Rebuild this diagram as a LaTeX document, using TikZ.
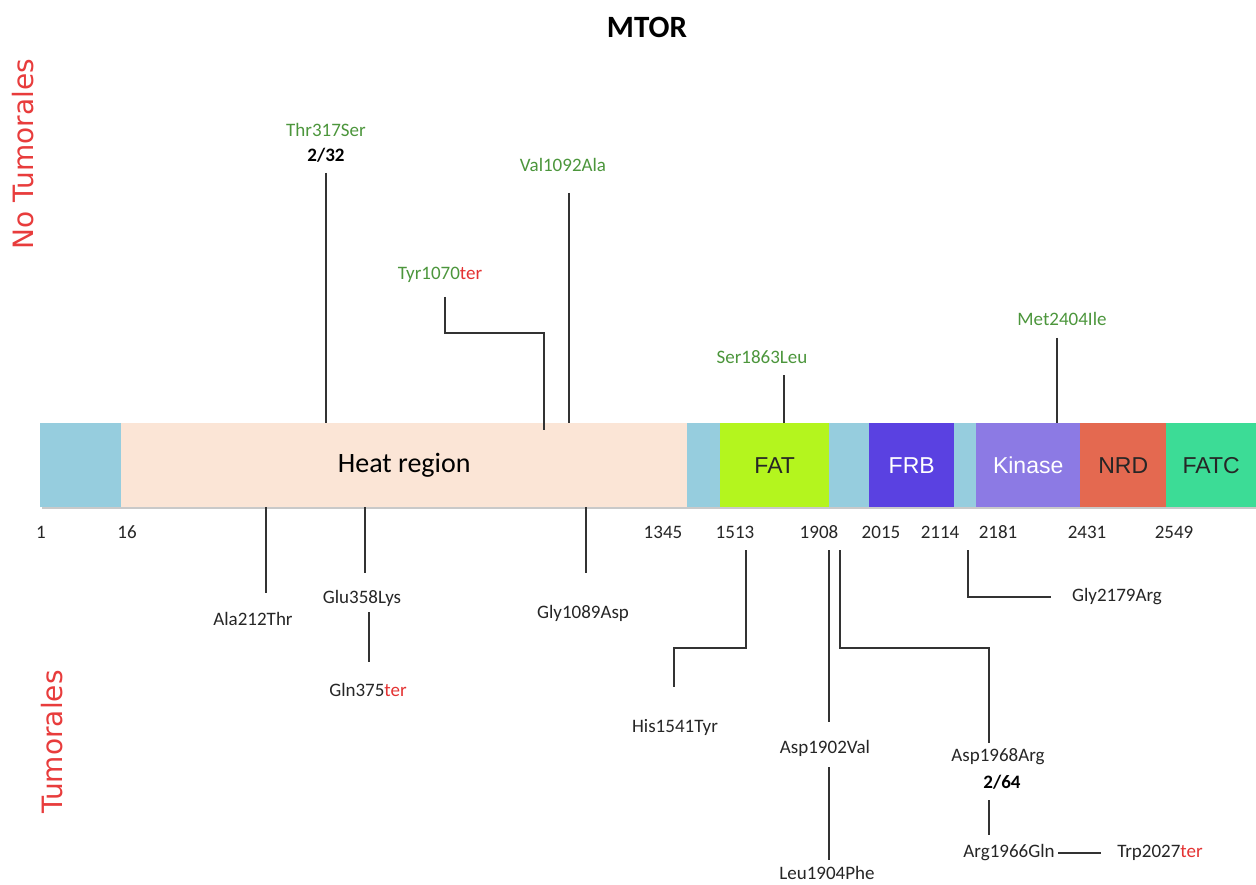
\documentclass[tikz,border=0pt]{standalone}
\usepackage{fontspec}
\setmainfont{Carlito}
\newfontfamily\dejavu{DejaVu Sans}
\newfontfamily\arialf{Liberation Sans}
\definecolor{lblue}{RGB}{150,205,222}
\definecolor{peach}{RGB}{251,229,214}
\definecolor{fatc1}{RGB}{180,245,30}
\definecolor{frbc}{RGB}{90,65,225}
\definecolor{kinc}{RGB}{140,122,228}
\definecolor{nrdc}{RGB}{228,105,80}
\definecolor{fatcc}{RGB}{60,220,150}
\definecolor{mgreen}{RGB}{76,150,60}
\definecolor{tred}{RGB}{228,50,50}
\definecolor{sidered}{RGB}{232,60,60}
\begin{document}
\begin{tikzpicture}[x=1pt,y=-1pt,
  seg/.style={draw=none, anchor=north west, minimum height=84pt, inner sep=0pt},
  dlabel/.style={font=\arialf\fontsize{23}{26}\selectfont},
  mut/.style={font=\fontsize{19}{22}\selectfont, inner sep=0pt, text=black!85},
  gmut/.style={mut, text=mgreen},
  cnt/.style={font=\fontsize{19}{22}\selectfont\bfseries, inner sep=0pt, text=black},
  num/.style={font=\fontsize{19}{22}\selectfont, inner sep=0pt, text=black!85},
  conn/.style={line width=1.3pt, draw=black!80},
  side/.style={rotate=90, font=\dejavu\fontsize{28}{30}\selectfont, text=sidered, inner sep=0pt}
]
\useasboundingbox (0,0) rectangle (1256,885);
\fill[white] (0,0) rectangle (1256,885);

% title and side labels
\node[font=\fontsize{31}{34}\selectfont\bfseries, inner sep=0pt] (mtor) at (647,27) {MTOR};
\node[side] (notum) at (23,154) {No Tumorales};
\node[side] (tum) at (52,742) {Tumorales};

% bar shadow
\fill[black!35, opacity=0.6] (42,505) rectangle (1256,509);

% bar segments
\node[seg, fill=lblue, minimum width=81pt] (b1) at (40,423) {};
\node[seg, fill=peach, minimum width=566pt, font=\fontsize{28}{30}\selectfont] (heat) at (121,423) {Heat region};
\node[seg, fill=lblue, minimum width=33pt] (b2) at (687,423) {};
\node[seg, fill=fatc1, minimum width=109pt, dlabel, text=black!85] (fat) at (720,423) {FAT};
\node[seg, fill=lblue, minimum width=40pt] (b3) at (829,423) {};
\node[seg, fill=frbc, minimum width=85pt, dlabel, text=white] (frb) at (869,423) {FRB};
\node[seg, fill=lblue, minimum width=22pt] (b4) at (954,423) {};
\node[seg, fill=kinc, minimum width=104pt, dlabel, text=white] (kin) at (976,423) {Kinase};
\node[seg, fill=nrdc, minimum width=86pt, dlabel, text=black!85] (nrd) at (1080,423) {NRD};
\node[seg, fill=fatcc, minimum width=90pt, dlabel, text=black!85] (fatc) at (1166,423) {FATC};

% position numbers
\node[num] (n1) at (41,532) {1};
\node[num] (n16) at (127,532) {16};
\node[num] (n1345) at (663,532) {1345};
\node[num] (n1513) at (735,532) {1513};
\node[num] (n1908) at (819,532) {1908};
\node[num] (n2015) at (881,532) {2015};
\node[num] (n2114) at (940,532) {2114};
\node[num] (n2181) at (998,532) {2181};
\node[num] (n2431) at (1087,532) {2431};
\node[num] (n2549) at (1174,532) {2549};

% ---------- No Tumorales (above) ----------
\node[gmut] (thr) at (326,130) {Thr317Ser};
\node[cnt] (thrc) at (326,155) {2/32};
\coordinate (thrA) at (326,173); \coordinate (thrB) at (326,423);
\draw[conn] (thrA) -- (thrB);

\node[gmut] (val) at (563,165) {Val1092Ala};
\coordinate (valA) at (569,193); \coordinate (valB) at (569,423);
\draw[conn] (valA) -- (valB);

\node[gmut] (tyr) at (440,275) {Tyr1070\textcolor{tred}{ter}};
\coordinate (tyrA) at (445,297); \coordinate (tyrB) at (544,333); \coordinate (tyrC) at (544,430);
\draw[conn] (tyrA) |- (tyrB) -- (tyrC);

\node[gmut] (ser) at (762,357) {Ser1863Leu};
\coordinate (serA) at (784,375); \coordinate (serB) at (784,423);
\draw[conn] (serA) -- (serB);

\node[gmut] (met) at (1062,319) {Met2404Ile};
\coordinate (metA) at (1057,338); \coordinate (metB) at (1057,423);
\draw[conn] (metA) -- (metB);

% ---------- Tumorales (below) ----------
\coordinate (alaA) at (266,507); \coordinate (alaB) at (266,593);
\draw[conn] (alaA) -- (alaB);
\node[mut] (ala) at (253,619) {Ala212Thr};

\coordinate (gluA) at (365,507); \coordinate (gluB) at (365,573);
\draw[conn] (gluA) -- (gluB);
\node[mut] (glu) at (362,598) {Glu358Lys};
\coordinate (glnA) at (369,612); \coordinate (glnB) at (369,662);
\draw[conn] (glnA) -- (glnB);
\node[mut] (gln) at (368,690) {Gln375\textcolor{tred}{ter}};

\coordinate (glyA) at (586,507); \coordinate (glyB) at (586,573);
\draw[conn] (glyA) -- (glyB);
\node[mut] (gly) at (583,613) {Gly1089Asp};

\coordinate (hisA) at (746,550); \coordinate (hisB) at (674,648); \coordinate (hisC) at (674,687);
\draw[conn] (hisA) |- (hisB) -- (hisC);
\node[mut] (his) at (675,727) {His1541Tyr};

\coordinate (aspA) at (829,550); \coordinate (aspB) at (829,722);
\draw[conn] (aspA) -- (aspB);
\node[mut] (asp) at (825,748) {Asp1902Val};
\coordinate (leuA) at (829,767); \coordinate (leuB) at (829,860);
\draw[conn] (leuA) -- (leuB);
\node[mut] (leu) at (827,873) {Leu1904Phe};

\coordinate (a68A) at (840,550); \coordinate (a68B) at (989,648); \coordinate (a68C) at (989,743);
\draw[conn] (a68A) |- (a68B) -- (a68C);
\node[mut] (a68) at (998,757) {Asp1968Arg};
\node[cnt] (a68c) at (1002,782) {2/64};
\coordinate (argA) at (989,800); \coordinate (argB) at (989,835);
\draw[conn] (argA) -- (argB);
\node[mut] (arg) at (1009,853) {Arg1966Gln};
\node[mut] (trp) at (1160,853) {Trp2027\textcolor{tred}{ter}};
\coordinate (trpA) at (1058,853); \coordinate (trpB) at (1101,853);
\draw[conn] (trpA) -- (trpB);

\coordinate (g79A) at (968,550); \coordinate (g79B) at (1051,597);
\draw[conn] (g79A) |- (g79B);
\node[mut] (g79) at (1117,597) {Gly2179Arg};
\end{tikzpicture}
\end{document}
